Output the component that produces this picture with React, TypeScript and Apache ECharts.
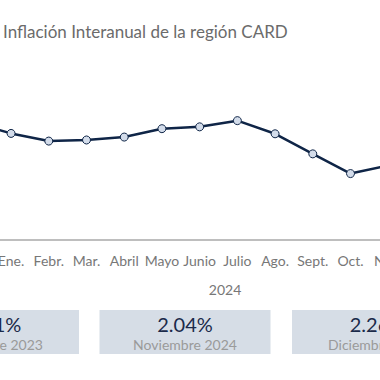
import React, { useEffect, useRef } from "react";
import * as echarts from "echarts";

const categories = ["Dic.", "Ene.", "Febr.", "Mar.", "Abril", "Mayo", "Junio", "Julio", "Ago.", "Sept.", "Oct.", "Nov.", "Dic."];
const inflation = [3.21, 2.92, 2.71, 2.74, 2.82, 3.05, 3.1, 3.27, 2.91, 2.36, 1.82, 2.04, 2.26];
const yearLabel = "2024";
const title = "Inflación Interanual de la región CARD";
const summaryIdx = [0, 11, 12];
const summaryLabels = ["Diciembre 2023", "Noviembre 2024", "Diciembre 2024"];

const FONT = "Lato, 'Open Sans', sans-serif";
const SHIFT = 60; // chart canvas starts this far left of the visible window
const CHART_W = 560;

export default function App() {
  const ref = useRef<HTMLDivElement>(null);
  useEffect(() => {
    if (!ref.current) return;
    const chart = echarts.init(ref.current, null, { renderer: "svg" });
    const boxCenters = [-6.5, 185, 377.5];
    const boxW = 171;
    const graphics: any[] = [
      {
        type: "text",
        x: 3 + SHIFT,
        y: 31,
        style: { text: title, fill: "#6b6b6b", font: `17px ${FONT}`, verticalAlign: "middle" },
      },
      {
        type: "text",
        x: 225 + SHIFT,
        y: 289,
        style: { text: yearLabel, fill: "#777", font: `14px ${FONT}`, align: "center", verticalAlign: "middle" },
      },
    ];
    summaryIdx.forEach((idx, i) => {
      const cx = boxCenters[i] + SHIFT;
      graphics.push({
        type: "rect",
        shape: { x: cx - boxW / 2, y: 310, width: boxW, height: 44 },
        style: { fill: "#d6dde6" },
      });
      graphics.push({
        type: "text",
        x: cx,
        y: 324,
        style: { text: inflation[idx].toFixed(2) + "%", fill: "#1b2a4a", font: `20px ${FONT}`, align: "center", verticalAlign: "middle" },
      });
      graphics.push({
        type: "text",
        x: cx,
        y: 344,
        style: { text: summaryLabels[i], fill: "#9a9a9a", font: `14px ${FONT}`, align: "center", verticalAlign: "middle" },
      });
    });
    chart.setOption({
      animation: false,
      grid: { left: SHIFT - 45.5, width: 490.3, top: 94, bottom: 140 },
      xAxis: {
        type: "category",
        data: categories,
        boundaryGap: true,
        axisLine: { lineStyle: { color: "#a8a8a8", width: 1.5 } },
        axisTick: { show: false },
        axisLabel: { color: "#777", fontSize: 14, fontFamily: FONT, margin: 13, interval: 0 },
      },
      yAxis: { type: "value", min: 0, max: 4, show: false, splitLine: { show: false } },
      series: [
        {
          type: "line",
          data: inflation,
          symbol: "circle",
          symbolSize: 8,
          lineStyle: { color: "#0f2547", width: 2.5 },
          itemStyle: { color: "#d3dcea", borderColor: "#0f2547", borderWidth: 1 },
        },
      ],
      graphic: graphics,
    });
    return () => chart.dispose();
  }, []);
  return (
    <div style={{ position: "fixed", left: 0, top: 0, width: 380, height: 380, overflow: "hidden", background: "#fff" }}>
      <div ref={ref} style={{ position: "absolute", left: -SHIFT, top: 0, width: CHART_W, height: 380 }} />
    </div>
  );
}
